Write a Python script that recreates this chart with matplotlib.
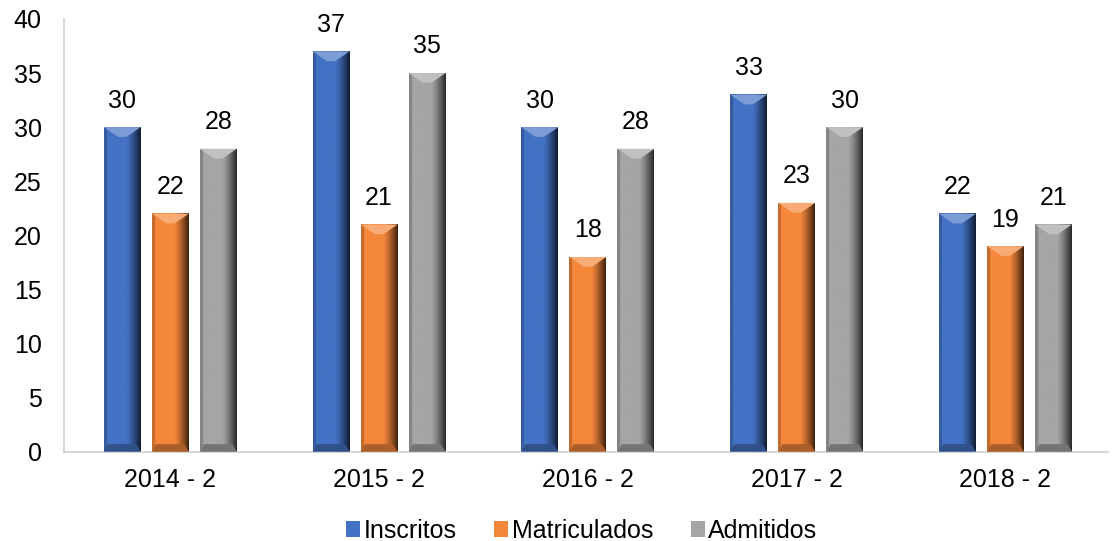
import numpy as np
import matplotlib.pyplot as plt
from matplotlib.colors import to_rgb
from matplotlib.patches import Patch, Polygon

plt.rcParams['font.family'] = ['Liberation Sans', 'DejaVu Sans']

periods = ["2014 - 2", "2015 - 2", "2016 - 2", "2017 - 2", "2018 - 2"]
inscritos = [30, 37, 30, 33, 22]
matriculados = [22, 21, 18, 23, 19]
admitidos = [28, 35, 28, 30, 21]

series = [("Inscritos", inscritos, "#4472C4"),
          ("Matriculados", matriculados, "#F5873A"),
          ("Admitidos", admitidos, "#A5A5A5")]

fig = plt.figure(figsize=(11.19, 5.41), dpi=100)
ax = fig.add_axes([0.057, 0.165, 0.933, 0.80])

bar_w = 0.177
step = 0.23
x = np.arange(len(periods))

# horizontal shading profile of a bevelled bar
u = np.linspace(0, 1, 60)
prof = np.ones_like(u)
prof[u < 0.08] = 0.8
prof[u > 0.6] = 1 - 0.75 * ((u[u > 0.6] - 0.6) / 0.4) ** 1.3

def shaded_bar(xc, h, color):
    c = np.array(to_rgb(color))
    x0, x1 = xc - bar_w / 2, xc + bar_w / 2
    img = np.clip(prof[None, :, None] * c[None, None, :], 0, 1)
    ax.imshow(img, extent=(x0, x1, 0, h), aspect='auto', zorder=2,
              interpolation='bilinear')
    d = bar_w * 0.4
    bh = 0.9
    light = np.clip(c + (1 - c) * 0.3, 0, 1)
    dark = c * 0.7
    ax.add_patch(Polygon([(x0, h), (x1, h), (xc + 0.02, h - bh), (xc - 0.02, h - bh)],
                         closed=True, facecolor=light, edgecolor='none', zorder=3))
    ax.add_patch(Polygon([(x0, 0), (x1, 0), (x1 - d * 0.3, 0.7), (x0 + d * 0.3, 0.7)],
                         closed=True, facecolor=dark, edgecolor='none', zorder=3))
    ax.text(xc, h + 1.35, str(h), ha='center', va='bottom', fontsize=18, color='black')

for i, (name, vals, col) in enumerate(series):
    for j, v in enumerate(vals):
        shaded_bar(x[j] + (i - 1) * step, v, col)

ax.set_xlim(-0.51, 4.49)
ax.set_ylim(0, 40)
ax.set_yticks(range(0, 41, 5))
ax.set_xticks(x)
ax.set_xticklabels(periods)
ax.tick_params(axis='both', length=0, labelsize=18, colors='black')
ax.tick_params(axis='y', pad=16)
ax.tick_params(axis='x', pad=12)
for s in ['top', 'right']:
    ax.spines[s].set_visible(False)
for s in ['left', 'bottom']:
    ax.spines[s].set_color('#D0D0D0')
    ax.spines[s].set_linewidth(1.2)

handles = [Patch(facecolor=c, edgecolor='none', label=n) for n, _, c in series]
fig.legend(handles=handles, loc='lower center', bbox_to_anchor=(0.52, -0.045), ncol=3,
           frameon=False, fontsize=18, handlelength=0.55, handleheight=0.55,
           handletextpad=0.15, columnspacing=1.5)

fig.savefig("out.png", dpi=100)
